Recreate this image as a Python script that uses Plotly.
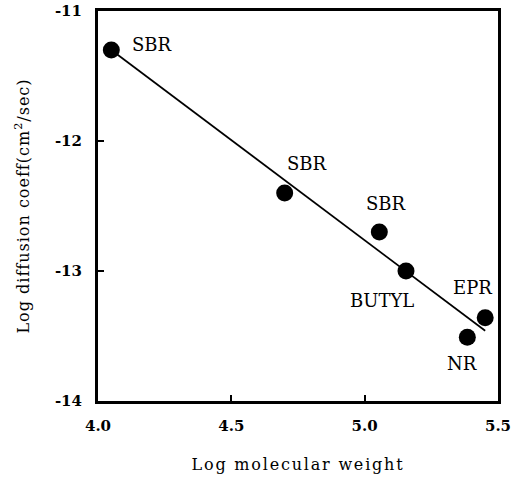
import plotly.graph_objects as go

# Data
materials = ["SBR", "SBR", "SBR", "BUTYL", "NR", "EPR"]
log_mw = [4.05, 4.70, 5.055, 5.155, 5.385, 5.452]
log_diff = [-11.30, -12.40, -12.70, -13.00, -13.51, -13.36]

fit_x = [4.05, 5.452]
fit_y = [-11.30, -13.46]

x_ticks = [4.0, 4.5, 5.0, 5.5]
x_tick_labels = ["4.0", "4.5", "5.0", "5.5"]
y_ticks = [-14, -13, -12, -11]
y_tick_labels = ["-14", "-13", "-12", "-11"]

# label offsets in pixels (xshift, yshift)
label_shift = [(41, 6), (22, 30), (7, 29), (-24, -29), (-5, -26), (-13, 30)]

FONT = "DejaVu Serif"

fig = go.Figure()
fig.add_trace(go.Scatter(x=fit_x, y=fit_y, mode="lines",
                         line=dict(color="black", width=1.7), showlegend=False))
fig.add_trace(go.Scatter(x=log_mw, y=log_diff, mode="markers",
                         marker=dict(color="black", size=17), showlegend=False))

for name, xv, yv, (dx, dy) in zip(materials, log_mw, log_diff, label_shift):
    fig.add_annotation(x=xv, y=yv, text=name, showarrow=False,
                       xshift=dx, yshift=dy,
                       font=dict(family=FONT, size=18, color="black"))

tickfont = dict(family=FONT, size=15, color="black", weight="bold")
fig.update_xaxes(range=[4.0, 5.5], tickvals=x_ticks, ticktext=x_tick_labels,
                 ticks="inside", ticklen=6, tickwidth=1.5, tickcolor="black",
                 ticklabelstandoff=9,
                 showline=True, linecolor="black", linewidth=3, mirror=True,
                 showgrid=False, zeroline=False, automargin=False,
                 tickfont=tickfont,
                 title=dict(text='<span style="letter-spacing:1.8px">Log molecular weight</span>',
                            font=dict(family=FONT, size=16, color="black"),
                            standoff=25))
fig.update_yaxes(range=[-14, -11], tickvals=y_ticks, ticktext=y_tick_labels,
                 ticks="inside", ticklen=6, tickwidth=1.5, tickcolor="black",
                 ticklabelstandoff=10,
                 showline=True, linecolor="black", linewidth=3, mirror=True,
                 showgrid=False, zeroline=False, automargin=False,
                 tickfont=tickfont,
                 title=dict(text='<span style="letter-spacing:1px">Log diffusion coeff(cm<sup>2</sup>/sec)</span>',
                            font=dict(family=FONT, size=16, color="black"),
                            standoff=22))

fig.update_layout(width=516, height=477,
                  margin=dict(l=98, r=18, t=11, b=76),
                  plot_bgcolor="white", paper_bgcolor="white")

fig.write_html("out.html")
